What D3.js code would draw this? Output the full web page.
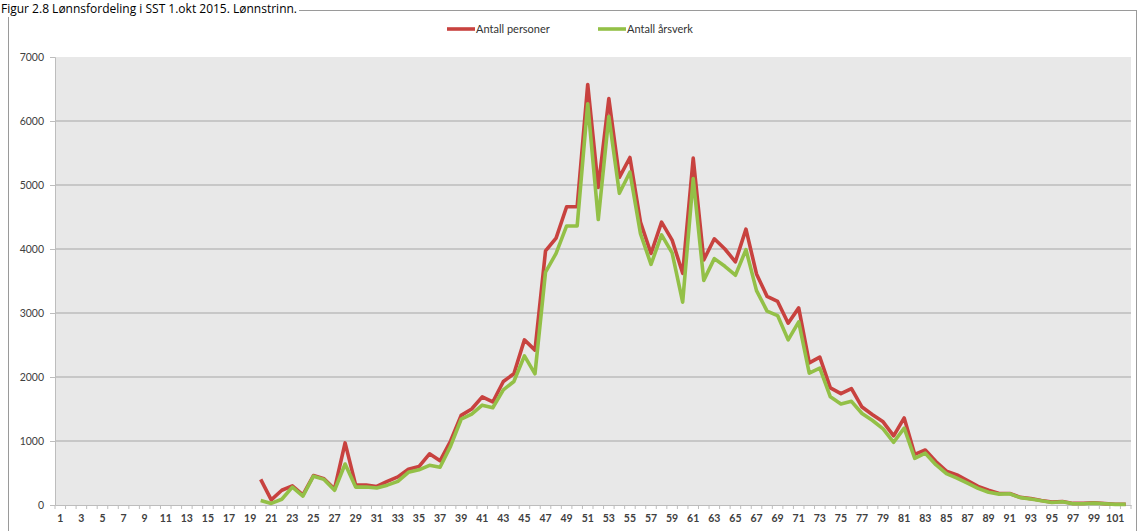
<!DOCTYPE html>
<html><head><meta charset="utf-8">
<script src="https://cdn.jsdelivr.net/npm/d3@7"></script>
<style>body{margin:0;background:#fff;overflow:hidden}</style>
</head><body>
<svg id="c" width="1138" height="531"></svg>
<script>
const titleText = "Figur 2.8 Lønnsfordeling i SST 1.okt 2015. Lønnstrinn.";
const seriesNames = ["Antall personer", "Antall årsverk"];
const steps = d3.range(1, 103); // lønnstrinn 1..102
const yTicks = [0, 1000, 2000, 3000, 4000, 5000, 6000, 7000];
const xTickLabels = d3.range(1, 102, 2);
const firstStep = 20;
const personer = [400,80,230,300,160,460,410,250,970,310,310,290,370,440,560,600,800,690,1000,1400,1500,1690,1610,1930,2050,2580,2420,3970,4170,4660,4660,6570,4960,6350,5120,5430,4420,3930,4420,4140,3620,5420,3830,4160,4000,3800,4310,3610,3260,3180,2840,3080,2220,2310,1830,1740,1820,1530,1410,1300,1080,1360,790,860,680,530,470,380,290,230,180,180,120,100,70,45,55,25,25,35,22,12,12];
const arsverk = [70,25,90,280,140,450,400,230,640,280,280,265,310,370,510,550,620,590,920,1340,1420,1560,1520,1800,1930,2330,2050,3640,3930,4360,4360,6270,4460,6070,4870,5200,4240,3760,4220,3940,3170,5100,3510,3850,3730,3590,3990,3350,3030,2960,2580,2860,2060,2140,1690,1580,1620,1430,1320,1190,980,1200,730,810,630,490,420,340,260,200,170,175,115,95,65,40,50,20,20,30,20,10,10];
const colors = ["#C8423F", "#93C047"];

const svg = d3.select("#c");
// chart area border
svg.append("rect").attr("x", 8.5).attr("y", 10.5).attr("width", 1128).attr("height", 530).attr("fill", "#fff").attr("stroke", "#9a9a9a");
// title
const title = svg.append("text").attr("x", 1).attr("y", 13).attr("font-family", "Open Sans").attr("font-size", 12).attr("fill", "#000").text(titleText);
const tb = title.node().getBBox();
svg.insert("rect", "text").attr("x", tb.x).attr("y", tb.y).attr("width", tb.width + 2).attr("height", tb.height).attr("fill", "#fff");

const L = 55, R = 1131, T = 57, B = 505;
const x = d3.scaleBand().domain(steps).range([L, R]);
const y = d3.scaleLinear().domain([0, 7000]).range([B, T]);

svg.append("rect").attr("x", L).attr("y", T).attr("width", R - L).attr("height", B - T).attr("fill", "#e8e8e8");

// gridlines
svg.append("g").selectAll("line").data(yTicks.filter(d => d > 0 && d < 7000)).join("line")
  .attr("x1", L).attr("x2", R).attr("y1", d => y(d)).attr("y2", d => y(d))
  .attr("stroke", "#bdbdbd").attr("stroke-width", 1.5);

// y axis
const yAxis = svg.append("g").attr("transform", `translate(${L},0)`)
  .call(d3.axisLeft(y).tickValues(yTicks).tickSize(5).tickPadding(6).tickFormat(d3.format("d")));
yAxis.select(".domain").attr("stroke", "#bdbdbd");
yAxis.selectAll(".tick line").attr("stroke", "#bdbdbd");
yAxis.selectAll("text").attr("font-family", "Lato").attr("font-size", 10.5).attr("fill", "#404040");

// x axis
const xAxis = svg.append("g").attr("transform", `translate(0,${B})`)
  .call(d3.axisBottom(x).tickValues(xTickLabels).tickSize(0).tickPadding(10));
xAxis.select(".domain").attr("stroke", "#bdbdbd");
xAxis.selectAll("text").attr("font-family", "Lato").attr("font-weight", "bold").attr("font-size", 10.5).attr("fill", "#404040");
// category boundary tick marks
svg.append("g").selectAll("line").data(steps.concat([103])).join("line")
  .attr("x1", d => d <= 102 ? x(d) : R).attr("x2", d => d <= 102 ? x(d) : R)
  .attr("y1", B).attr("y2", B + 4).attr("stroke", "#bdbdbd");

// lines
const pts = arr => arr.map((v, i) => [firstStep + i, v]);
const line = d3.line().x(d => x(d[0]) + x.bandwidth() / 2).y(d => y(d[1]));
[personer, arsverk].forEach((arr, i) => {
  svg.append("path").datum(pts(arr)).attr("d", line).attr("fill", "none")
    .attr("stroke", colors[i]).attr("stroke-width", 3.6).attr("stroke-linejoin", "round");
});

// legend
const leg = svg.append("g").attr("font-family", "Lato").attr("font-size", 11).attr("fill", "#333");
const legX = [447, 598];
seriesNames.forEach((n, i) => {
  leg.append("line").attr("x1", legX[i]).attr("x2", legX[i] + 28).attr("y1", 29).attr("y2", 29)
    .attr("stroke", colors[i]).attr("stroke-width", 3.6);
  leg.append("text").attr("x", legX[i] + 29).attr("y", 33).text(n);
});
</script>
</body></html>
